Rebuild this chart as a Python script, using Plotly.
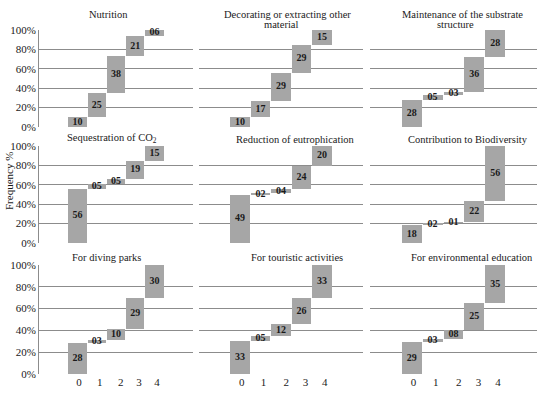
import numpy as np
import plotly.graph_objects as go

# ---------------- data ----------------
categories = ["0", "1", "2", "3", "4"]
y_ticks = [0, 20, 40, 60, 80, 100]

nutrition = [10, 25, 38, 21, 6]
decorating = [10, 17, 29, 29, 15]
maintenance = [28, 5, 3, 36, 28]
sequestration = [56, 5, 5, 19, 15]
eutrophication = [49, 2, 4, 24, 20]
biodiversity = [18, 2, 1, 22, 56]
diving = [28, 3, 10, 29, 30]
touristic = [33, 5, 12, 26, 33]
environmental = [29, 3, 8, 25, 35]

panel_titles = [
    ["Nutrition"],
    ["Decorating or extracting other", "material"],
    ["Maintenance of the substrate", "structure"],
    ["Sequestration of CO<sub>2</sub>"],
    ["Reduction of eutrophication"],
    ["Contribution to Biodiversity"],
    ["For diving parks"],
    ["For touristic activities"],
    ["For environmental education"],
]
panel_values = [nutrition, decorating, maintenance,
                sequestration, eutrophication, biodiversity,
                diving, touristic, environmental]

# ---------------- layout helpers ----------------
W, H = 550, 396
col_px = [(39, 193), (199, 363), (370, 537)]
row_px = [(30, 127), (146, 243), (265, 374)]

# title placement (pixel centres for each line)
title_pos = [
    [(108, 14)],
    [(287, 14.5), (281, 24.5)],
    [(462, 14.5), (455, 24.5)],
    [(112, 138)],
    [(295, 139)],
    [(468, 139)],
    [(106, 257)],
    [(297, 257)],
    [(472, 257)],
]

FONT = "Liberation Serif"
BAR_COLOR = "#a6a6a6"
GRID_COLOR = "#8c8c8c"
TEXT_COLOR = "#1a1a1a"

fig = go.Figure()
annotations = []
layout_axes = {}

for k, vals in enumerate(panel_values):
    r, c = divmod(k, 3)
    v = np.array(vals, dtype=float)
    total = v.sum()
    pct = v / total * 100
    base = np.concatenate([[0], np.cumsum(pct)[:-1]])
    xpos = np.arange(len(categories))
    suffix = "" if k == 0 else str(k + 1)
    xa, ya = "x" + suffix, "y" + suffix

    fig.add_trace(go.Bar(
        x=xpos, y=pct, base=base, width=0.95,
        marker=dict(color=BAR_COLOR, line=dict(width=0)),
        xaxis=xa, yaxis=ya, showlegend=False, hoverinfo="skip",
    ))
    fig.add_trace(go.Scatter(
        x=xpos, y=base + pct / 2, mode="text",
        text=[f"<b>{int(x):02d}</b>" for x in vals],
        textfont=dict(family=FONT, size=10, color=TEXT_COLOR),
        cliponaxis=False,
        xaxis=xa, yaxis=ya, showlegend=False, hoverinfo="skip",
    ))

    l, rr = col_px[c]
    t, b = row_px[r]
    xkey = "xaxis" + suffix
    ykey = "yaxis" + suffix
    xaxis_cfg = dict(
        domain=[l / W, rr / W], range=[-2, 6], anchor=ya,
        showgrid=False, zeroline=False, showline=False, ticks="",
        showticklabels=(r == 2), automargin=False,
        tickfont=dict(family=FONT, size=11, color=TEXT_COLOR),
        fixedrange=True,
    )
    if r == 2:
        xaxis_cfg.update(tickmode="array",
                         tickvals=[0.08, 1.15, 2.25, 3.2, 4.13],
                         ticktext=categories)
    layout_axes[xkey] = xaxis_cfg
    layout_axes[ykey] = dict(
        domain=[1 - b / H, 1 - t / H], range=[0, 100], anchor=xa,
        tickmode="array", tickvals=y_ticks,
        ticktext=[f"{y}%" for y in y_ticks],
        showticklabels=(c == 0), ticks="", automargin=False,
        showgrid=True, gridcolor=GRID_COLOR, gridwidth=1,
        zeroline=False,
        showline=(c == 0), linecolor=GRID_COLOR, linewidth=1,
        tickfont=dict(family=FONT, size=11, color=TEXT_COLOR),
        ticklabelstandoff=0,
        fixedrange=True,
    )

    for line, (px, py) in zip(panel_titles[k], title_pos[k]):
        annotations.append(dict(
            text=line, x=px / W, y=1 - py / H, xref="paper", yref="paper",
            xanchor="center", yanchor="middle", showarrow=False,
            font=dict(family=FONT, size=10.5, color=TEXT_COLOR),
        ))

annotations.append(dict(
    text="Frequency %", x=9 / W, y=1 - 181 / H, xref="paper", yref="paper",
    xanchor="center", yanchor="middle", showarrow=False, textangle=-90,
    font=dict(family=FONT, size=11, color=TEXT_COLOR),
))

fig.update_layout(
    width=W, height=H,
    margin=dict(l=0, r=0, t=0, b=0, pad=0, autoexpand=False),
    paper_bgcolor="white", plot_bgcolor="white",
    font=dict(family=FONT, color=TEXT_COLOR),
    annotations=annotations,
    bargap=0,
    hovermode=False,
    **layout_axes,
)

fig.write_html(
    "out.html",
    config={"displayModeBar": False, "staticPlot": True},
    post_script="document.body.style.margin='0';document.body.style.overflow='hidden';",
)
